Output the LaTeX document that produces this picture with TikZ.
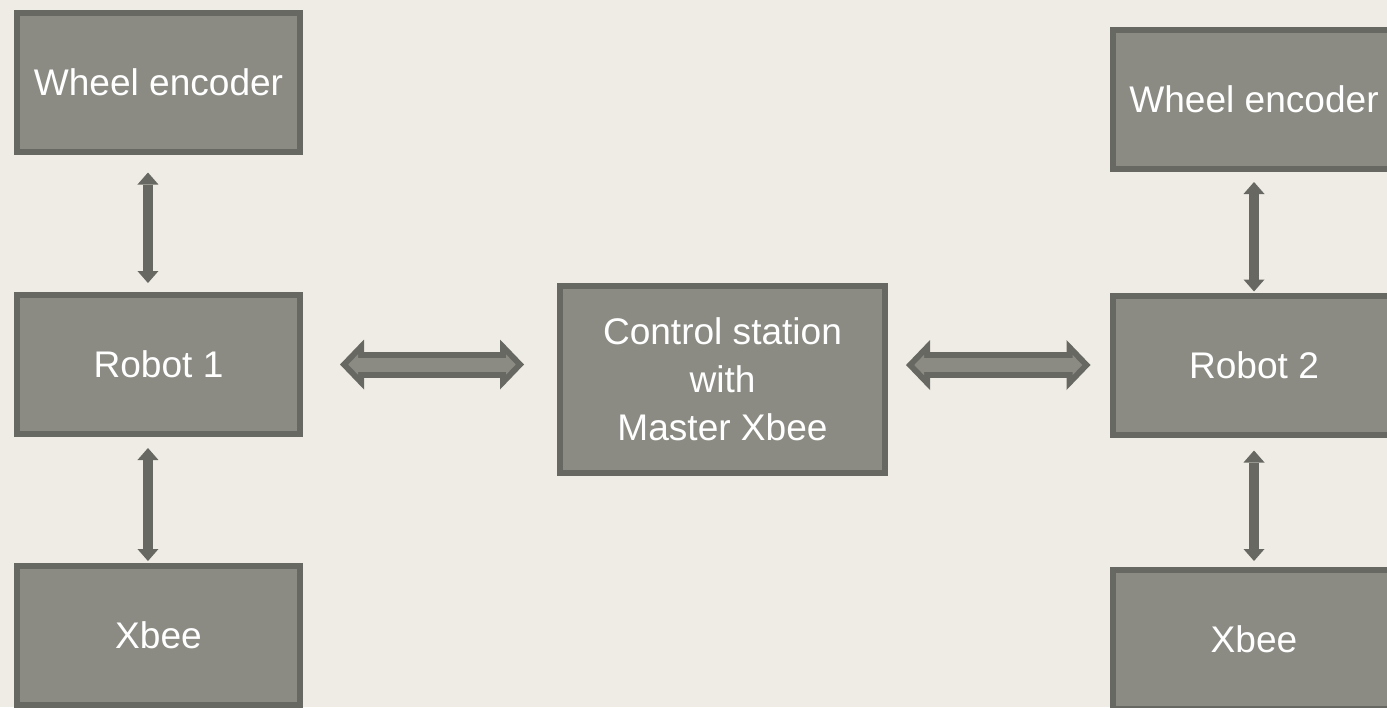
\documentclass[tikz,border=0pt]{standalone}
\usepackage{fontspec}
\setmainfont{Liberation Sans}
\usepackage{tikz}
\usetikzlibrary{
  arrows.meta,
  positioning,
  calc,
}
\definecolor{pageBg}{HTML}{EFECE5}
\definecolor{boxFill}{HTML}{8B8B84}
\definecolor{boxLine}{HTML}{686862}

\begin{document}
\begin{tikzpicture}[x=0.75pt, y=-0.75pt,
  unitbox/.style={draw=boxLine, fill=boxFill, line width=4.5pt,
    minimum width=212.25pt, minimum height=104.25pt, inner sep=0pt,
    text=white, align=center, font=\fontsize{27.8}{36}\selectfont},
  vlink/.style={draw=boxLine, line width=7.5pt,
    {Triangle[width=15.75pt,length=9pt,line width=0pt]}-{Triangle[width=15.75pt,length=9pt,line width=0pt]}},
  hlinkout/.style={draw=boxLine, line width=19.5pt,
    {Triangle[width=37.5pt,length=18pt,line width=0pt]}-{Triangle[width=37.5pt,length=18pt,line width=0pt]}},
  hlinkin/.style={draw=boxFill, line width=10.5pt,
    {Triangle[width=15.2pt,length=7.3pt,line width=0pt]}-{Triangle[width=15.2pt,length=7.3pt,line width=0pt]}},
]

% page
\path[use as bounding box, fill=pageBg] (0,0) rectangle (1387,707);
\clip (0,0) rectangle (1387,707);

\foreach \name/\label/\x/\y in {%
  wheelL/Wheel encoder/158.5/82,%
  robotL/Robot 1/158.5/364.5,%
  xbeeL/Xbee/158.5/635.5,%
  wheelR/Wheel encoder/1254/99.5,%
  robotR/Robot 2/1254/365,%
  xbeeR/Xbee/1254/639.5%
}
{
  \node[unitbox] (\name) at (\x, \y) {\label};
}

% control station in the middle
\node[unitbox, minimum width=243.75pt, minimum height=140.25pt]
  (station) at (722.5, 379.5) {Control station\\with\\Master Xbee};

% robot 1 side
\draw[vlink, shorten <=13.5pt, shorten >=6.75pt]
  ([xshift=-7.9pt]wheelL.south) -- ([xshift=-7.9pt]robotL.north);
\draw[vlink, shorten <=8.25pt, shorten >=1.5pt]
  ([xshift=-7.9pt]robotL.south) -- ([xshift=-7.9pt]xbeeL.north);

% robot 2 side
\draw[vlink, shorten <=7.5pt, shorten >=0.75pt]
  (wheelR.south) -- (robotR.north);
\draw[vlink, shorten <=9.75pt, shorten >=4.5pt]
  (robotR.south) -- (xbeeR.north);

% radio links to the station
\draw[hlinkout, shorten <=27.75pt, shorten >=24.75pt]
  (robotL.east) -- (robotL.east -| station.west);
\draw[hlinkin, shorten <=33.95pt, shorten >=30.95pt]
  (robotL.east) -- (robotL.east -| station.west);
\draw[hlinkout, shorten <=13.5pt, shorten >=14.25pt]
  (robotR.west -| station.east) -- (robotR.west);
\draw[hlinkin, shorten <=19.7pt, shorten >=20.45pt]
  (robotR.west -| station.east) -- (robotR.west);

\end{tikzpicture}
\end{document}
